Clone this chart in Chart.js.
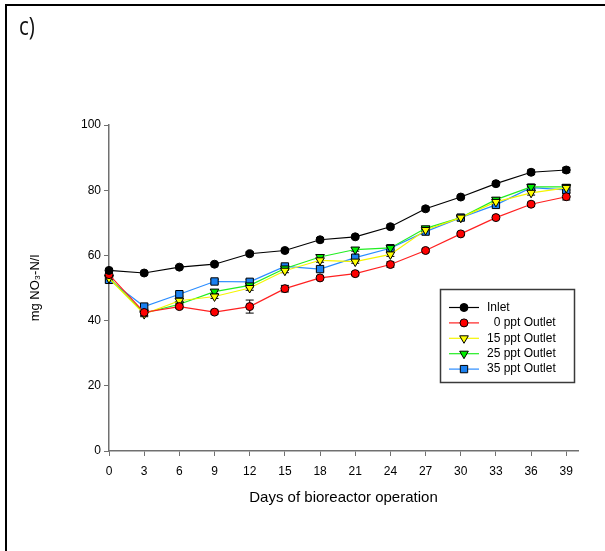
<!DOCTYPE html>
<html>
<head>
<meta charset="utf-8">
<script src="https://cdn.jsdelivr.net/npm/chart.js@4.4.0/dist/chart.umd.min.js"></script>
<style>
    body { margin: 0; background: #fff; }
    #wrap { position: relative; width: 605px; height: 551px; }
    #frame { position: absolute; left: 5px; top: 4px; width: 600px; height: 547px;
        border-top: 2px solid #000; border-left: 2px solid #000; box-sizing: border-box; }
    #panel { position: absolute; left: 19px; top: 8px; font-family: 'Open Sans', sans-serif;
        font-size: 25px; color: #111; transform: scaleX(0.82); transform-origin: left top; }
    canvas { position: absolute; left: 0; top: 0; }
</style>
</head>
<body>
<div id="wrap">
    <canvas id="myChart" width="605" height="551"></canvas>
    <div id="frame"></div>
    <div id="panel">c)</div>
</div>
<script>
// values
var days = [0, 3, 6, 9, 12, 15, 18, 21, 24, 27, 30, 33, 36, 39];
var xTicks = [0, 3, 6, 9, 12, 15, 18, 21, 24, 27, 30, 33, 36, 39];
var yTicks = [0, 20, 40, 60, 80, 100];

var inlet = [55.4, 54.6, 56.4, 57.3, 60.5, 61.5, 64.8, 65.7, 68.8, 74.3, 77.9, 82.0, 85.5, 86.2];
var outlet0 = [54.1, 42.5, 44.3, 42.6, 44.3, 49.8, 53.1, 54.4, 57.2, 61.5, 66.6, 71.6, 75.7, 78.0];
var outlet15 = [53.0, 42.0, 46.1, 47.4, 50.0, 55.3, 58.5, 58.1, 60.3, 67.8, 71.6, 76.4, 79.2, 80.7];
var outlet25 = [53.2, 42.3, 45.0, 48.9, 50.8, 56.0, 59.5, 61.8, 62.3, 68.3, 71.6, 77.1, 81.0, 81.0];
var outlet35 = [52.5, 44.3, 48.1, 52.0, 51.9, 56.6, 55.8, 59.3, 62.2, 67.3, 71.6, 75.5, 80.8, 80.1];

var errInlet = [0.6, 0.5, 0.5, 0.5, 0.6, 0.5, 0.6, 0.5, 0.6, 0.6, 0.5, 0.6, 0.7, 0.8];
var err0 = [0.8, 0.8, 0.6, 0.6, 2.0, 1.0, 0.5, 0.6, 0.8, 0.5, 0.5, 0.5, 0.6, 1.0];
var err15 = [0.7, 0.8, 0.6, 0.6, 0.7, 0.6, 0.6, 0.5, 0.6, 0.6, 0.5, 0.6, 0.7, 0.8];
var err25 = [0.7, 0.8, 0.6, 0.6, 0.7, 0.6, 0.6, 0.5, 0.6, 0.6, 0.5, 0.6, 0.7, 0.8];
var err35 = [0.7, 0.8, 0.6, 0.6, 0.7, 0.6, 0.6, 0.5, 0.6, 0.6, 0.5, 0.6, 0.7, 0.8];

var fontFam = '"Liberation Sans", Arial, sans-serif';

function pts(vals) {
    var out = [];
    for (var i = 0; i < days.length; i++) {
        out.push({ x: days[i], y: vals[i] });
    }
    return out;
}

function series(label, vals, errs, line, fill, style, radius, rot) {
    return {
        label: label,
        data: pts(vals),
        errors: errs,
        borderColor: line,
        borderWidth: 1.2,
        backgroundColor: fill,
        pointBackgroundColor: fill,
        pointBorderColor: '#000',
        pointBorderWidth: 1,
        pointStyle: style,
        pointRadius: radius,
        pointRotation: rot,
        tension: 0,
        clip: false
    };
}

// error bars go under the lines and markers
var errorBars = {
    id: 'errorBars',
    beforeDatasetsDraw: function (chart) {
        var ctx = chart.ctx;
        var ys = chart.scales.y;
        ctx.save();
        ctx.strokeStyle = '#000';
        ctx.lineWidth = 1;
        chart.data.datasets.forEach(function (ds, di) {
            var meta = chart.getDatasetMeta(di);
            meta.data.forEach(function (p, i) {
                var v = ds.data[i].y, e = ds.errors[i];
                var y1 = ys.getPixelForValue(v + e), y2 = ys.getPixelForValue(v - e);
                ctx.beginPath();
                ctx.moveTo(p.x, y1); ctx.lineTo(p.x, y2);
                ctx.moveTo(p.x - 4, y1); ctx.lineTo(p.x + 4, y1);
                ctx.moveTo(p.x - 4, y2); ctx.lineTo(p.x + 4, y2);
                ctx.stroke();
            });
        });
        ctx.restore();
    }
};

// boxed legend with line + marker samples, like the original plot
var boxLegend = {
    id: 'boxLegend',
    afterDraw: function (chart) {
        var ctx = chart.ctx;
        var bx = 440.5, by = 289.5, bw = 134, bh = 93;
        ctx.save();
        ctx.strokeStyle = '#3a3a3a';
        ctx.lineWidth = 1.5;
        ctx.strokeRect(bx, by, bw, bh);
        ctx.font = '12px ' + fontFam;
        ctx.textBaseline = 'middle';
        ctx.fillStyle = '#000';
        chart.data.datasets.forEach(function (ds, i) {
            var y = 307.5 + i * 15.4;
            ctx.strokeStyle = ds.borderColor;
            ctx.lineWidth = 1.2;
            ctx.beginPath();
            ctx.moveTo(449, y); ctx.lineTo(479, y);
            ctx.stroke();
            ctx.fillStyle = ds.pointBackgroundColor;
            ctx.strokeStyle = '#000';
            ctx.lineWidth = 1;
            Chart.helpers.drawPoint(ctx, {
                pointStyle: ds.pointStyle,
                radius: ds.pointRadius,
                rotation: ds.pointRotation,
                borderWidth: 1
            }, 464, y);
            ctx.fillStyle = '#000';
            ctx.fillText(ds.label, 487, y);
        });
        ctx.restore();
    }
};

var ctx = document.getElementById('myChart').getContext('2d');
var myChart = new Chart(ctx, {
    type: 'line',
    data: {
        datasets: [
            series('Inlet', inlet, errInlet, '#000000', '#000000', 'circle', 4, 0),
            series('  0 ppt Outlet', outlet0, err0, '#ff2020', '#ff0000', 'circle', 4, 0),
            series('15 ppt Outlet', outlet15, err15, '#f5f500', '#ffff00', 'triangle', 5, 180),
            series('25 ppt Outlet', outlet25, err25, '#22ee22', '#00ee00', 'triangle', 5, 180),
            series('35 ppt Outlet', outlet35, err35, '#2a8cff', '#1a80f0', 'rect', 5.2, 0)
        ]
    },
    options: {
        responsive: false,
        animation: false,
        layout: { padding: { left: 0, right: 27, top: 125, bottom: 0 } },
        plugins: {
            legend: { display: false },
            tooltip: { enabled: false }
        },
        scales: {
            x: {
                type: 'linear',
                min: 0,
                max: 40,
                afterFit: function (s) { s.height = 100; },
                afterBuildTicks: function (s) {
                    s.ticks = xTicks.map(function (v) { return { value: v }; });
                },
                border: { display: true, color: '#707070', width: 1.5 },
                grid: { drawOnChartArea: false, drawTicks: true, tickLength: 5, color: '#707070', lineWidth: 1 },
                ticks: {
                    autoSkip: false, maxRotation: 0, padding: 8, color: '#000',
                    font: { family: fontFam, size: 12 }
                },
                title: {
                    display: true, text: 'Days of bioreactor operation', color: '#000',
                    font: { family: fontFam, size: 15 },
                    padding: { top: 44, bottom: 44 }
                }
            },
            y: {
                min: 0,
                max: 100,
                afterFit: function (s) { s.width = 109; },
                afterBuildTicks: function (s) {
                    s.ticks = yTicks.map(function (v) { return { value: v }; });
                },
                border: { display: true, color: '#707070', width: 1.5 },
                grid: { drawOnChartArea: false, drawTicks: true, tickLength: 5, color: '#707070', lineWidth: 1 },
                ticks: {
                    padding: 3, color: '#000',
                    font: { family: fontFam, size: 12 }
                },
                title: {
                    display: true, text: 'mg NO₃-N/l', color: '#000',
                    font: { family: fontFam, size: 13 },
                    padding: { top: 28, bottom: 28 }
                }
            }
        }
    },
    plugins: [errorBars, boxLegend]
});
</script>
</body>
</html>
